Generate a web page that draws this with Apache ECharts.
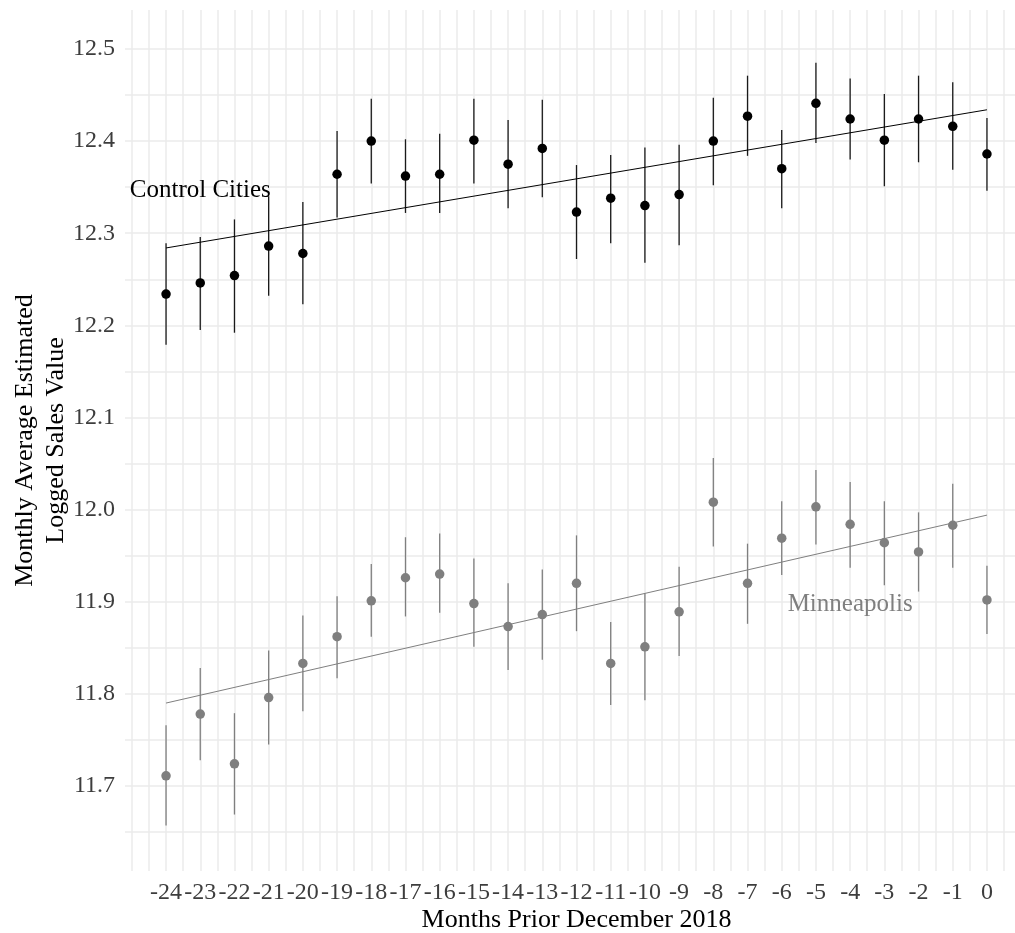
<!DOCTYPE html>
<html>
<head>
<meta charset="utf-8">
<script src="https://cdn.jsdelivr.net/npm/echarts@6/dist/echarts.min.js"></script>
<style>
  html, body { margin: 0; padding: 0; background: #fff; }
  #main { width: 1015px; height: 933px; }
</style>
</head>
<body>
<div id="main"></div>
<script>
// months prior December 2018
const months = [-24, -23, -22, -21, -20, -19, -18, -17, -16, -15, -14, -13, -12,
  -11, -10, -9, -8, -7, -6, -5, -4, -3, -2, -1, 0];

// control cities: estimate, lower, upper
const controlMean = [12.234, 12.246, 12.254, 12.286, 12.278, 12.364, 12.400, 12.362, 12.364, 12.401, 12.375, 12.392, 12.323,
  12.338, 12.330, 12.342, 12.400, 12.427, 12.370, 12.441, 12.424, 12.401, 12.424, 12.416, 12.386];
const controlLow = [12.179, 12.195, 12.192, 12.232, 12.223, 12.317, 12.354, 12.322, 12.322, 12.354, 12.327, 12.339, 12.272,
  12.289, 12.268, 12.287, 12.352, 12.384, 12.327, 12.398, 12.380, 12.351, 12.377, 12.369, 12.346];
const controlHigh = [12.289, 12.296, 12.315, 12.340, 12.334, 12.411, 12.446, 12.402, 12.408, 12.446, 12.423, 12.445, 12.374,
  12.385, 12.393, 12.396, 12.447, 12.471, 12.412, 12.485, 12.468, 12.451, 12.471, 12.464, 12.425];

// minneapolis: estimate, lower, upper
const mplsMean = [11.711, 11.778, 11.724, 11.796, 11.833, 11.862, 11.901, 11.926, 11.930, 11.898, 11.873, 11.886, 11.920,
  11.833, 11.851, 11.889, 12.008, 11.920, 11.969, 12.003, 11.984, 11.964, 11.954, 11.983, 11.902];
const mplsLow = [11.657, 11.728, 11.669, 11.745, 11.781, 11.817, 11.862, 11.884, 11.888, 11.851, 11.826, 11.837, 11.868,
  11.788, 11.793, 11.841, 11.960, 11.876, 11.929, 11.962, 11.937, 11.918, 11.911, 11.937, 11.865];
const mplsHigh = [11.766, 11.828, 11.779, 11.847, 11.885, 11.906, 11.941, 11.970, 11.974, 11.947, 11.920, 11.935, 11.972,
  11.878, 11.909, 11.938, 12.056, 11.963, 12.009, 12.043, 12.030, 12.009, 11.997, 12.028, 11.939];

// fitted trend lines (start at -24, end at 0)
const controlTrend = [12.284, 12.434];
const mplsTrend = [11.790, 11.994];

// tick labels
const xTickLabels = [-24, -23, -22, -21, -20, -19, -18, -17, -16, -15, -14, -13, -12,
  -11, -10, -9, -8, -7, -6, -5, -4, -3, -2, -1, 0];
const yTickLabels = [11.7, 11.8, 11.9, 12.0, 12.1, 12.2, 12.3, 12.4, 12.5];

// text annotations
const labelText = ["Control Cities", "Minneapolis"];
const labelX = [-23, -4];
const labelY = [12.35, 11.9];

// grid lines every half step
const xGrid = [];
for (let v = -25; v <= 1; v += 0.5) xGrid.push(v);
const yGrid = [];
for (let i = 0; i <= 18; i++) yGrid.push(+(11.65 + i * 0.05).toFixed(2));

const serif = "Liberation Serif";
const colCtrl = "#000000";
const colMpls = "#7f7f7f";

function bars(low, high) {
  return months.map((m, i) => [m, low[i], high[i]]);
}

function errorBar(color) {
  return function (params, api) {
    const top = api.coord([api.value(0), api.value(2)]);
    const bot = api.coord([api.value(0), api.value(1)]);
    return {
      type: "line",
      shape: { x1: top[0], y1: top[1], x2: bot[0], y2: bot[1] },
      style: { stroke: color, lineWidth: 1.3 },
    };
  };
}

const myChart = echarts.init(document.getElementById("main"));
myChart.setOption({
  animation: false,
  backgroundColor: "#fff",
  grid: { left: 125, right: -13, top: 10, bottom: 62, outerBoundsMode: "none", containLabel: false },
  xAxis: {
    type: "value",
    min: -25.2,
    max: 1.2,
    name: "Months Prior December 2018",
    nameLocation: "middle",
    nameGap: 36,
    nameMoveOverlap: false,
    nameTextStyle: { fontFamily: serif, fontSize: 26, color: "#000" },
    axisLine: { show: false },
    axisTick: { show: false, customValues: xGrid },
    axisLabel: {
      customValues: xTickLabels,
      fontFamily: serif,
      fontSize: 24,
      color: "#3d3d3d",
      margin: 10,
    },
    splitLine: { show: true, lineStyle: { color: "#ebebeb", width: 1.5 } },
  },
  yAxis: {
    type: "value",
    min: 11.6077,
    max: 12.5423,
    name: "Monthly Average Estimated\nLogged Sales Value",
    nameLocation: "middle",
    nameRotate: 90,
    nameGap: 53,
    nameMoveOverlap: false,
    nameTextStyle: { fontFamily: serif, fontSize: 26, color: "#000", lineHeight: 31 },
    axisLine: { show: false },
    axisTick: { show: false, customValues: yGrid },
    axisLabel: {
      customValues: yTickLabels,
      formatter: (v) => v.toFixed(1),
      fontFamily: serif,
      fontSize: 24,
      color: "#3d3d3d",
      margin: 10,
    },
    splitLine: { show: true, lineStyle: { color: "#ebebeb", width: 1.5 } },
  },
  series: [
    {
      type: "line",
      data: [[months[0], controlTrend[0]], [months[months.length - 1], controlTrend[1]]],
      symbol: "none",
      lineStyle: { color: colCtrl, width: 1 },
      silent: true,
    },
    {
      type: "line",
      data: [[months[0], mplsTrend[0]], [months[months.length - 1], mplsTrend[1]]],
      symbol: "none",
      lineStyle: { color: colMpls, width: 1 },
      silent: true,
    },
    {
      type: "custom",
      renderItem: errorBar("#1a1a1a"),
      data: bars(controlLow, controlHigh),
    },
    {
      type: "custom",
      renderItem: errorBar(colMpls),
      data: bars(mplsLow, mplsHigh),
    },
    {
      type: "scatter",
      symbolSize: 9.5,
      itemStyle: { color: colCtrl, opacity: 1 },
      data: months.map((m, i) => [m, controlMean[i]]),
    },
    {
      type: "scatter",
      symbolSize: 9.5,
      itemStyle: { color: colMpls, opacity: 1 },
      data: months.map((m, i) => [m, mplsMean[i]]),
    },
    {
      type: "custom",
      renderItem: function (params, api) {
        const p = api.coord([api.value(0), api.value(1)]);
        const i = params.dataIndex;
        return {
          type: "text",
          x: p[0],
          y: p[1] + 3,
          style: {
            text: labelText[i],
            fontFamily: serif,
            fontSize: 25,
            fill: i === 0 ? colCtrl : colMpls,
            align: "center",
            verticalAlign: "middle",
          },
        };
      },
      data: labelX.map((x, i) => [x, labelY[i]]),
    },
  ],
});

window.addEventListener("resize", function () {
  myChart.resize();
});
</script>
</body>
</html>
